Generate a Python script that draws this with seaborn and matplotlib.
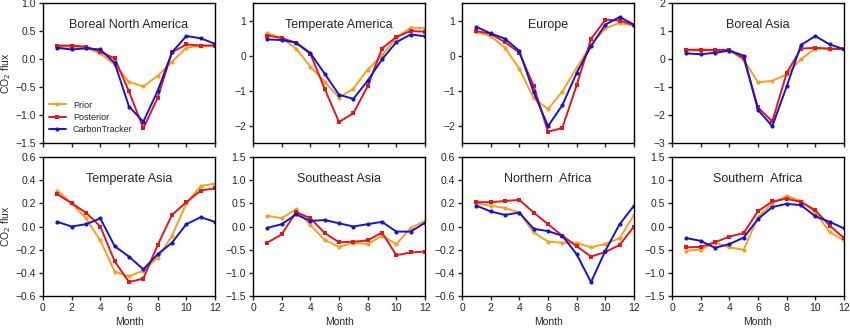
import matplotlib
matplotlib.use("Agg")
import matplotlib.pyplot as plt
import seaborn as sns
import numpy as np
import pandas as pd

sns.set_style("ticks")
plt.rcParams['font.family'] = ['Liberation Sans', 'DejaVu Sans']

months = list(range(1, 13))

regions = ["Boreal North America", "Temperate America", "Europe", "Boreal Asia",
           "Temperate Asia", "Southeast Asia", "Northern  Africa", "Southern  Africa"]

prior = {
    "Boreal North America": [0.22, 0.22, 0.20, 0.10, -0.10, -0.41, -0.49, -0.30, -0.05, 0.20, 0.24, 0.24],
    "Temperate America": [0.63, 0.50, 0.20, -0.32, -0.75, -1.20, -0.95, -0.40, 0.00, 0.50, 0.80, 0.78],
    "Europe": [0.68, 0.55, 0.22, -0.38, -1.22, -1.53, -1.03, -0.35, 0.30, 0.78, 0.93, 0.85],
    "Boreal Asia": [0.30, 0.30, 0.30, 0.30, -0.02, -0.83, -0.78, -0.55, 0.00, 0.37, 0.37, 0.35],
    "Temperate Asia": [0.31, 0.20, 0.07, -0.12, -0.39, -0.43, -0.38, -0.27, -0.08, 0.20, 0.35, 0.37],
    "Southeast Asia": [0.23, 0.18, 0.37, 0.03, -0.29, -0.44, -0.35, -0.38, -0.20, -0.38, -0.03, 0.12],
    "Northern  Africa": [0.20, 0.18, 0.16, 0.12, -0.05, -0.13, -0.14, -0.14, -0.18, -0.15, -0.10, 0.10],
    "Southern  Africa": [-0.52, -0.50, -0.35, -0.45, -0.50, 0.20, 0.50, 0.66, 0.55, 0.30, -0.12, -0.30],
}
posterior = {
    "Boreal North America": [0.24, 0.24, 0.22, 0.13, 0.01, -0.58, -1.24, -0.69, 0.12, 0.26, 0.24, 0.24],
    "Temperate America": [0.57, 0.50, 0.36, 0.05, -0.95, -1.90, -1.65, -0.88, 0.20, 0.53, 0.70, 0.68],
    "Europe": [0.70, 0.62, 0.38, 0.08, -0.87, -2.18, -2.07, -0.85, 0.47, 1.02, 1.00, 0.87],
    "Boreal Asia": [0.33, 0.33, 0.32, 0.33, 0.02, -1.73, -2.23, -0.50, 0.37, 0.40, 0.37, 0.35],
    "Temperate Asia": [0.28, 0.20, 0.12, 0.00, -0.30, -0.48, -0.45, -0.16, 0.10, 0.21, 0.31, 0.33],
    "Southeast Asia": [-0.35, -0.17, 0.31, 0.18, -0.14, -0.34, -0.33, -0.30, -0.13, -0.62, -0.56, -0.54],
    "Northern  Africa": [0.21, 0.21, 0.22, 0.23, 0.12, 0.02, -0.08, -0.17, -0.26, -0.22, -0.16, 0.00],
    "Southern  Africa": [-0.45, -0.44, -0.34, -0.22, -0.14, 0.33, 0.54, 0.60, 0.53, 0.35, 0.02, -0.25],
}
carbontracker = {
    "Boreal North America": [0.20, 0.17, 0.19, 0.17, -0.07, -0.85, -1.12, -0.57, 0.12, 0.41, 0.37, 0.27],
    "Temperate America": [0.46, 0.44, 0.37, 0.07, -0.52, -1.12, -1.24, -0.72, -0.11, 0.38, 0.60, 0.55],
    "Europe": [0.82, 0.63, 0.48, 0.13, -1.05, -2.02, -1.42, -0.50, 0.27, 0.88, 1.10, 0.88],
    "Boreal Asia": [0.20, 0.17, 0.22, 0.30, 0.12, -1.82, -2.40, -0.98, 0.50, 0.82, 0.52, 0.35],
    "Temperate Asia": [0.04, 0.00, 0.02, 0.07, -0.17, -0.26, -0.37, -0.24, -0.14, 0.02, 0.08, 0.04],
    "Southeast Asia": [-0.03, 0.05, 0.26, 0.12, 0.14, 0.07, 0.00, 0.05, 0.10, -0.11, -0.11, 0.08],
    "Northern  Africa": [0.18, 0.13, 0.10, 0.12, -0.02, -0.04, -0.08, -0.24, -0.48, -0.21, 0.02, 0.18],
    "Southern  Africa": [-0.25, -0.31, -0.46, -0.38, -0.24, 0.16, 0.42, 0.49, 0.46, 0.22, 0.10, -0.04],
}

ylims = [(-1.5, 1.0), (-2.5, 1.5), (-2.5, 1.5), (-3, 2),
         (-0.6, 0.6), (-1.5, 1.5), (-0.6, 0.6), (-1.5, 1.5)]
yticks = [[-1.5, -1.0, -0.5, 0.0, 0.5, 1.0],
          [-2, -1, 0, 1],
          [-2, -1, 0, 1],
          [-3, -2, -1, 0, 1, 2],
          [-0.6, -0.4, -0.2, 0.0, 0.2, 0.4, 0.6],
          [-1.5, -1.0, -0.5, 0.0, 0.5, 1.0, 1.5],
          [-0.6, -0.4, -0.2, 0.0, 0.2, 0.4, 0.6],
          [-1.5, -1.0, -0.5, 0.0, 0.5, 1.0, 1.5]]
yfmt = ["%.1f", "%d", "%d", "%d", "%.1f", "%.1f", "%.1f", "%.1f"]

series = [("Prior", prior, "#F5A11C", "o", 3.0),
          ("Posterior", posterior, "#E8141C", "s", 3.2),
          ("CarbonTracker", carbontracker, "#1414D2", "o", 3.0)]

fig = plt.figure(figsize=(8.5, 3.28), dpi=100)
W = 850.0
H = 328.0
lefts = [43, 253, 462, 672]
width = 172
rows = [(3, 143), (157, 296)]

for i, reg in enumerate(regions):
    r, c = divmod(i, 4)
    top, bot = rows[r]
    ax = fig.add_axes([lefts[c] / W, 1 - bot / H, width / W, (bot - top) / H])
    for name, d, col, mk, ms in series:
        sns.lineplot(x=months, y=d[reg], ax=ax, color=col, marker=mk,
                     markersize=ms, markeredgewidth=0, linewidth=1.4,
                     label=name if i == 0 else None, legend=(i == 0))
    ax.set_xlim(0, 12)
    ax.set_ylim(*ylims[i])
    ax.set_xticks(range(0, 13, 2))
    ticks = yticks[i]
    ax.set_yticks(ticks)
    ax.set_yticklabels([(yfmt[i] % t).replace("-", "\u2212") for t in ticks])
    ax.tick_params(direction="out", length=3, width=1, labelsize=7.5, pad=2,
                   top=False, right=False)
    for s in ax.spines.values():
        s.set_linewidth(1.0)
        s.set_color("black")
    if r == 0:
        ax.set_xticklabels([])
        ax.set_xlabel("")
    else:
        ax.set_xlabel("Month", fontsize=7.5, labelpad=3)
    if c == 0:
        ax.set_ylabel("CO$_2$ flux", fontsize=7.5, labelpad=2)
    else:
        ax.set_ylabel("")
    ax.text(0.5, 0.84, reg, transform=ax.transAxes, ha="center", va="center",
            fontsize=9)
    if i == 0:
        ax.legend(loc="lower left", frameon=False, fontsize=6.5,
                  handlelength=1.8, borderaxespad=0.3, labelspacing=0.35,
                  bbox_to_anchor=(0.0, 0.02))

fig.savefig("out.png", dpi=100)
